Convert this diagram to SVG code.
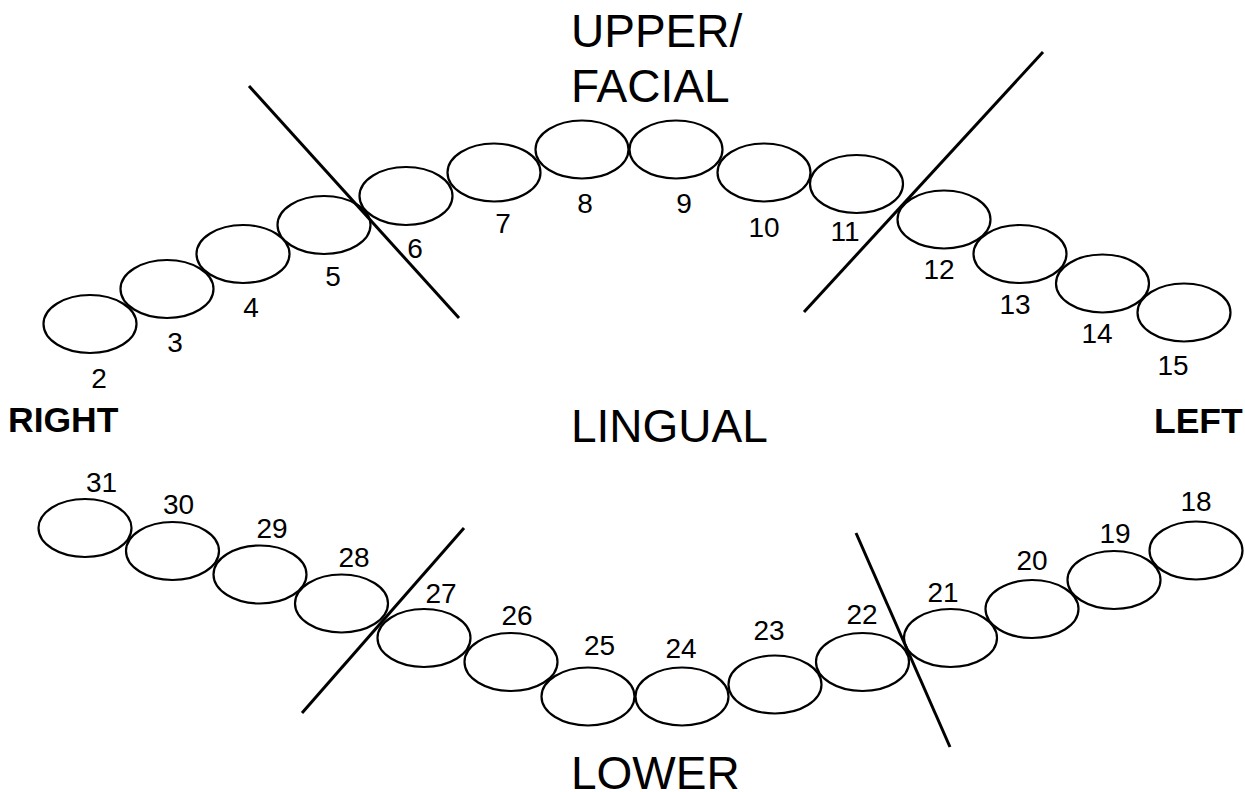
<svg xmlns="http://www.w3.org/2000/svg" width="1245" height="792" viewBox="0 0 1245 792">
<style>
.t{fill:#fff;stroke:#000;stroke-width:2.2}
.n{font-family:"Liberation Sans",Arial,sans-serif;font-size:28px;fill:#000;text-anchor:middle}
.big{font-family:"Liberation Sans",Arial,sans-serif;font-size:46px;fill:#000}
.side{font-family:"Liberation Sans",Arial,sans-serif;font-size:35.5px;font-weight:bold;fill:#000}
.ln{stroke:#000;stroke-width:3;fill:none}
</style>
<rect width="1245" height="792" fill="#fff"/>
<g id="upper">
<g id="t2"><ellipse class="t" cx="90" cy="324" rx="46.5" ry="29"/><text class="n" x="99" y="388">2</text></g>
<g id="t3"><ellipse class="t" cx="167" cy="289" rx="46.5" ry="29"/><text class="n" x="175" y="352">3</text></g>
<g id="t4"><ellipse class="t" cx="243" cy="254" rx="46.5" ry="29"/><text class="n" x="251" y="317">4</text></g>
<g id="t5"><ellipse class="t" cx="324" cy="225" rx="46.5" ry="29"/><text class="n" x="333" y="286">5</text></g>
<g id="t6"><ellipse class="t" cx="406" cy="196" rx="46.5" ry="29"/><text class="n" x="415" y="258">6</text></g>
<g id="t7"><ellipse class="t" cx="494" cy="172.5" rx="46.5" ry="29"/><text class="n" x="503" y="233">7</text></g>
<g id="t8"><ellipse class="t" cx="582" cy="149.5" rx="46.5" ry="29"/><text class="n" x="585" y="213">8</text></g>
<g id="t9"><ellipse class="t" cx="676" cy="149.5" rx="46.5" ry="29"/><text class="n" x="684" y="213">9</text></g>
<g id="t10"><ellipse class="t" cx="764" cy="172.5" rx="46.5" ry="29"/><text class="n" x="764" y="237">10</text></g>
<g id="t11"><ellipse class="t" cx="856.5" cy="184" rx="46.5" ry="29"/><text class="n" x="845" y="241">11</text></g>
<g id="t12"><ellipse class="t" cx="944" cy="219.5" rx="46.5" ry="29"/><text class="n" x="939" y="279">12</text></g>
<g id="t13"><ellipse class="t" cx="1020" cy="254" rx="46.5" ry="29"/><text class="n" x="1015" y="314">13</text></g>
<g id="t14"><ellipse class="t" cx="1102.5" cy="283.5" rx="46.5" ry="29"/><text class="n" x="1097" y="343">14</text></g>
<g id="t15"><ellipse class="t" cx="1184" cy="312.5" rx="46.5" ry="29"/><text class="n" x="1173" y="375">15</text></g>
</g>
<g id="lower">
<g id="t31"><ellipse class="t" cx="85" cy="528" rx="46.5" ry="29"/><text class="n" x="101.5" y="492">31</text></g>
<g id="t30"><ellipse class="t" cx="172.5" cy="551" rx="46.5" ry="29"/><text class="n" x="178.5" y="514">30</text></g>
<g id="t29"><ellipse class="t" cx="260" cy="574.5" rx="46.5" ry="29"/><text class="n" x="272" y="538">29</text></g>
<g id="t28"><ellipse class="t" cx="341.5" cy="603.5" rx="46.5" ry="29"/><text class="n" x="354" y="567">28</text></g>
<g id="t27"><ellipse class="t" cx="424" cy="638" rx="46.5" ry="29"/><text class="n" x="441" y="603">27</text></g>
<g id="t26"><ellipse class="t" cx="511" cy="662" rx="46.5" ry="29"/><text class="n" x="517" y="625">26</text></g>
<g id="t25"><ellipse class="t" cx="588" cy="696.5" rx="46.5" ry="29"/><text class="n" x="599.5" y="655">25</text></g>
<g id="t24"><ellipse class="t" cx="682" cy="696.5" rx="46.5" ry="29"/><text class="n" x="681" y="658">24</text></g>
<g id="t23"><ellipse class="t" cx="775" cy="684.5" rx="46.5" ry="29"/><text class="n" x="769" y="640">23</text></g>
<g id="t22"><ellipse class="t" cx="862.5" cy="662" rx="46.5" ry="29"/><text class="n" x="862" y="624">22</text></g>
<g id="t21"><ellipse class="t" cx="950.5" cy="638" rx="46.5" ry="29"/><text class="n" x="943" y="602">21</text></g>
<g id="t20"><ellipse class="t" cx="1032" cy="609" rx="46.5" ry="29"/><text class="n" x="1032" y="570">20</text></g>
<g id="t19"><ellipse class="t" cx="1114" cy="580" rx="46.5" ry="29"/><text class="n" x="1115" y="543">19</text></g>
<g id="t18"><ellipse class="t" cx="1196" cy="550.5" rx="46.5" ry="29"/><text class="n" x="1196" y="511">18</text></g>
</g>
<g id="connectors">
<line class="ln" x1="249" y1="86" x2="459" y2="318"/>
<line class="ln" x1="1043" y1="52" x2="804" y2="312"/>
<line class="ln" x1="464" y1="528" x2="302" y2="713"/>
<line class="ln" x1="856" y1="533" x2="950" y2="747"/>
</g>
<g id="labels">
<text class="big" x="571" y="47">UPPER/</text>
<text class="big" x="571" y="102">FACIAL</text>
<text class="big" x="571" y="442">LINGUAL</text>
<text class="big" x="571" y="789">LOWER</text>
<text class="side" x="8" y="432">RIGHT</text>
<text class="side" x="1154" y="433">LEFT</text>
</g>
</svg>
